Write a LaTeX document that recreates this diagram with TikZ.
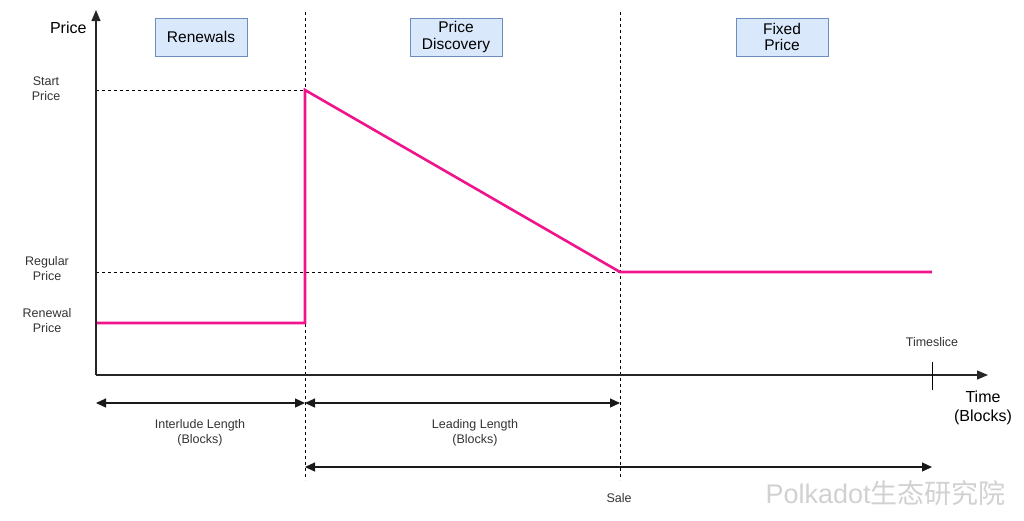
\documentclass[tikz,border=0pt]{standalone}
\usepackage{fontspec}
\setmainfont{Liberation Sans}
\newfontfamily\cjkfont{Noto Sans CJK SC}
\usetikzlibrary{arrows.meta}
\definecolor{pinkline}{HTML}{F0148C}
\definecolor{boxfill}{HTML}{DAE8FC}
\definecolor{boxdraw}{HTML}{6C8EBF}
\begin{document}
\begin{tikzpicture}[x=1pt,y=-1pt,
  phasebox/.style={draw=boxdraw,fill=boxfill,line width=0.8pt,minimum width=92pt,minimum height=38pt,align=center,font=\fontsize{15.5}{16.5}\selectfont,inner sep=0pt},
  axislbl/.style={font=\fontsize{12.5}{15}\selectfont,align=center,text=black!80},
  small/.style={font=\fontsize{12.5}{15}\selectfont,align=center,text=black!80},
  guide/.style={line width=0.9pt,dash pattern=on 3pt off 3pt},
  axis/.style={line width=1.2pt,-{Triangle[length=11pt,width=9pt]},black!85},
  dim/.style={line width=1.2pt,{Triangle[length=10pt,width=9pt]}-{Triangle[length=10pt,width=9pt]},black!90},
  curve/.style={pinkline,line width=2.6pt,line join=miter}]
\useasboundingbox (0,0) rectangle (1024,520);
% coordinates
\coordinate (O) at (96,375);
\coordinate (Ytop) at (96,10);
\coordinate (Xend) at (988,375);
\coordinate (A) at (305,12);
\coordinate (Ab) at (305,480);
\coordinate (B) at (620,12);
\coordinate (Bb) at (620,480);
\coordinate (S0) at (96,90);
\coordinate (S1) at (305,90);
\coordinate (R0) at (96,272);
\coordinate (R1) at (620,272);
\coordinate (P0) at (97,323);
\coordinate (P1) at (305,323);
\coordinate (P4) at (932,272);
\coordinate (T0) at (932,362);
\coordinate (T1) at (932,390);
% guides
\draw[guide] (A) -- (Ab);
\draw[guide] (B) -- (Bb);
\draw[guide] (S0) -- (S1);
\draw[guide] (R0) -- (R1);
% axes
\draw[axis] (O) -- (Ytop);
\draw[axis] (O) -- (Xend);
\draw[line width=0.8pt] (T0) -- (T1);
% price curve
\draw[curve] (P0) -- (P1) -- (S1) -- (R1) -- (P4);
% boxes
\node[phasebox] (ren) at (201,37) {Renewals};
\node[phasebox] (pd) at (456,37) {Price\\Discovery};
\node[phasebox] (fp) at (782,37) {Fixed\\Price};
% axis labels
\node[font=\fontsize{16}{18}\selectfont,anchor=east] (price) at (90,28) {Price};
\node[axislbl] (sp) at (46,89) {Start\\Price};
\node[axislbl] (rp) at (47,269) {Regular\\Price};
\node[axislbl] (rnp) at (47,321) {Renewal\\Price};
\node[small] (ts) at (932,342) {Timeslice};
\node[font=\fontsize{16}{19}\selectfont,align=center] (time) at (983,408) {Time\\(Blocks)};
% dimension arrows
\coordinate (D0) at (96,403);
\coordinate (D1) at (305,403);
\coordinate (D2) at (620,403);
\coordinate (E0) at (305,467);
\coordinate (E1) at (932,467);
\draw[dim] (D0) -- (D1);
\draw[dim] (D1) -- (D2);
\draw[dim] (E0) -- (E1);
\node[small] (il) at (200,433) {Interlude Length\\(Blocks)};
\node[small] (ll) at (475,433) {Leading Length\\(Blocks)};
\node[small] (sale) at (619,498) {Sale};
% watermark
\node[anchor=west,font=\fontsize{27}{30}\selectfont,text=black!18] (wm) at (762,493) {Polkadot{\cjkfont 生态研究院}};
\end{tikzpicture}
\end{document}
